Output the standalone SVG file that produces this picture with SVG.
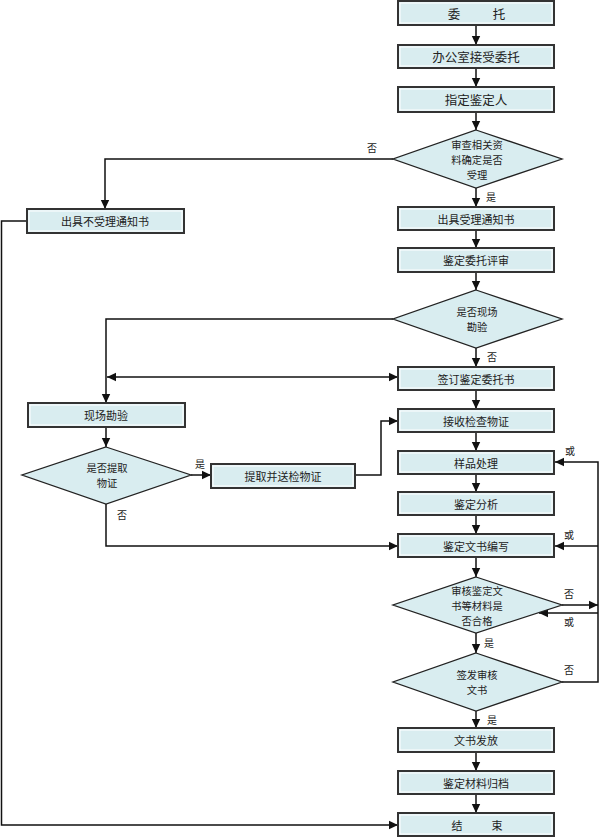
<svg xmlns="http://www.w3.org/2000/svg" width="600" height="837" viewBox="0 0 600 837">
<defs>
<style>
.box{fill:#d9edf0;stroke:#333;stroke-width:2}
.inner{fill:none;stroke:#fff;stroke-width:1}
.dia{fill:#d9edf0;stroke:#222;stroke-width:1.3}
.t{font-family:"Noto Sans CJK SC","Noto Sans",sans-serif;font-size:11px;fill:#222;text-anchor:middle;dominant-baseline:central}
.td{font-family:"Noto Sans CJK SC","Noto Sans",sans-serif;font-size:10.3px;fill:#222;text-anchor:middle;dominant-baseline:central}
.ts{font-family:"Noto Sans CJK SC","Noto Sans",sans-serif;font-size:12.5px;fill:#222;text-anchor:middle;dominant-baseline:central}
.lb{font-family:"Noto Sans CJK SC","Noto Sans",sans-serif;font-size:10px;fill:#222;text-anchor:middle;dominant-baseline:central}
.c{fill:none;stroke:#111;stroke-width:1.5}
</style>
<marker id="a" markerWidth="10" markerHeight="10" refX="9" refY="5" orient="auto" markerUnits="userSpaceOnUse">
<path d="M0,0.8 L9,5 L0,9.2 Z" fill="#111"/>
</marker>
<marker id="as" markerWidth="10" markerHeight="10" refX="0" refY="5" orient="auto" markerUnits="userSpaceOnUse">
<path d="M9,0.8 L0,5 L9,9.2 Z" fill="#111"/>
</marker>
</defs>
<rect width="600" height="837" fill="#fff"/>

<g id="connectors">
<path class="c" d="M476,25 V45" marker-end="url(#a)"/>
<path class="c" d="M476,68 V87" marker-end="url(#a)"/>
<path class="c" d="M476,112 V130" marker-end="url(#a)"/>
<path class="c" d="M476,188 V207" marker-end="url(#a)"/>
<path class="c" d="M476,230 V248" marker-end="url(#a)"/>
<path class="c" d="M476,272 V290" marker-end="url(#a)"/>
<path class="c" d="M476,348 V367" marker-end="url(#a)"/>
<path class="c" d="M476,390 V409" marker-end="url(#a)"/>
<path class="c" d="M476,432 V451" marker-end="url(#a)"/>
<path class="c" d="M476,474 V492" marker-end="url(#a)"/>
<path class="c" d="M476,515 V534" marker-end="url(#a)"/>
<path class="c" d="M476,557 V577" marker-end="url(#a)"/>
<path class="c" d="M476,633 V653" marker-end="url(#a)"/>
<path class="c" d="M476,711 V728" marker-end="url(#a)"/>
<path class="c" d="M476,752 V771" marker-end="url(#a)"/>
<path class="c" d="M476,794 V813" marker-end="url(#a)"/>
<path class="c" d="M393,159 H105 V209" marker-end="url(#a)"/>
<path class="c" d="M27,221 H1.5 V825 H398" marker-end="url(#a)"/>
<path class="c" d="M393,319 H106 V403" marker-end="url(#a)"/>
<path class="c" d="M107,377 H398" marker-start="url(#as)" marker-end="url(#a)"/>
<path class="c" d="M106,427 V447" marker-end="url(#a)"/>
<path class="c" d="M191,475 H211" marker-end="url(#a)"/>
<path class="c" d="M355,475 H381 V421 H398" marker-end="url(#a)"/>
<path class="c" d="M106,504 V546 H398" marker-end="url(#a)"/>
<path class="c" d="M562,605 H598" marker-end="url(#a)"/>
<path class="c" d="M598,613 H539" marker-end="url(#a)"/>
<path class="c" d="M562,682 H598 V462 H555" marker-end="url(#a)"/>
<path class="c" d="M598,546 H555" marker-end="url(#a)"/>
<text class="lb" x="372" y="147">否</text>
<text class="lb" x="491" y="196">是</text>
<text class="lb" x="492" y="356">否</text>
<text class="lb" x="200" y="463">是</text>
<text class="lb" x="122" y="514">否</text>
<text class="lb" x="570" y="450">或</text>
<text class="lb" x="569" y="534">或</text>
<text class="lb" x="569" y="593">否</text>
<text class="lb" x="569" y="621">或</text>
<text class="lb" x="569" y="669">否</text>
<text class="lb" x="489" y="642">是</text>
<text class="lb" x="492" y="719">是</text>
</g>

<g id="n1"><rect class="box" x="398" y="1" width="156" height="24"/><rect class="inner" x="400" y="3" width="152" height="20"/><text class="ts" x="454" y="13">委</text><text class="ts" x="499" y="13">托</text></g>
<g id="n2"><rect class="box" x="398" y="45" width="156" height="23"/><rect class="inner" x="400" y="47" width="152" height="19"/><text class="ts" x="476" y="56.5">办公室接受委托</text></g>
<g id="n3"><rect class="box" x="398" y="87" width="156" height="25"/><rect class="inner" x="400" y="89" width="152" height="21"/><text class="ts" x="476" y="99.5">指定鉴定人</text></g>
<g id="n4"><polygon class="dia" points="476,130 562,159 476,188 393,159"/><text class="td" x="477" y="144">审查相关资</text><text class="td" x="477" y="159">料确定是否</text><text class="td" x="477" y="174">受理</text></g>
<g id="n5"><rect class="box" x="398" y="207" width="156" height="23"/><rect class="inner" x="400" y="209" width="152" height="19"/><text class="t" x="476" y="218.5">出具受理通知书</text></g>
<g id="n6"><rect class="box" x="27" y="209" width="157" height="24"/><rect class="inner" x="29" y="211" width="153" height="20"/><text class="t" x="105" y="221">出具不受理通知书</text></g>
<g id="n7"><rect class="box" x="398" y="248" width="156" height="24"/><rect class="inner" x="400" y="250" width="152" height="20"/><text class="t" x="476" y="260">鉴定委托评审</text></g>
<g id="n8"><polygon class="dia" points="476,290 562,319 476,348 393,319"/><text class="td" x="477" y="311.5">是否现场</text><text class="td" x="477" y="326.5">勘验</text></g>
<g id="n9"><rect class="box" x="398" y="367" width="156" height="23"/><rect class="inner" x="400" y="369" width="152" height="19"/><text class="t" x="476" y="378.5">签订鉴定委托书</text></g>
<g id="n10"><rect class="box" x="28" y="403" width="157" height="24"/><rect class="inner" x="30" y="405" width="153" height="20"/><text class="t" x="106" y="415">现场勘验</text></g>
<g id="n11"><polygon class="dia" points="106,447 191,475 106,504 22,475"/><text class="td" x="107" y="467.5">是否提取</text><text class="td" x="107" y="482.5">物证</text></g>
<g id="n12"><rect class="box" x="211" y="464" width="144" height="24"/><rect class="inner" x="213" y="466" width="140" height="20"/><text class="t" x="283" y="476">提取并送检物证</text></g>
<g id="n13"><rect class="box" x="398" y="409" width="156" height="23"/><rect class="inner" x="400" y="411" width="152" height="19"/><text class="t" x="476" y="420.5">接收检查物证</text></g>
<g id="n14"><rect class="box" x="398" y="451" width="156" height="23"/><rect class="inner" x="400" y="453" width="152" height="19"/><text class="t" x="476" y="462.5">样品处理</text></g>
<g id="n15"><rect class="box" x="398" y="492" width="156" height="23"/><rect class="inner" x="400" y="494" width="152" height="19"/><text class="t" x="476" y="503.5">鉴定分析</text></g>
<g id="n16"><rect class="box" x="398" y="534" width="156" height="23"/><rect class="inner" x="400" y="536" width="152" height="19"/><text class="t" x="476" y="545.5">鉴定文书编写</text></g>
<g id="n17"><polygon class="dia" points="476,577 562,605 476,633 393,605"/><text class="td" x="477" y="590">审核鉴定文</text><text class="td" x="477" y="605">书等材料是</text><text class="td" x="477" y="620">否合格</text></g>
<g id="n18"><polygon class="dia" points="476,653 562,682 476,711 393,682"/><text class="td" x="477" y="674.5">签发审核</text><text class="td" x="477" y="689.5">文书</text></g>
<g id="n19"><rect class="box" x="398" y="728" width="156" height="24"/><rect class="inner" x="400" y="730" width="152" height="20"/><text class="t" x="476" y="740">文书发放</text></g>
<g id="n20"><rect class="box" x="398" y="771" width="156" height="23"/><rect class="inner" x="400" y="773" width="152" height="19"/><text class="t" x="476" y="782.5">鉴定材料归档</text></g>
<g id="n21"><rect class="box" x="398" y="813" width="156" height="23"/><rect class="inner" x="400" y="815" width="152" height="19"/><text class="t" x="457" y="824.5">结</text><text class="t" x="497" y="824.5">束</text></g>
</svg>
